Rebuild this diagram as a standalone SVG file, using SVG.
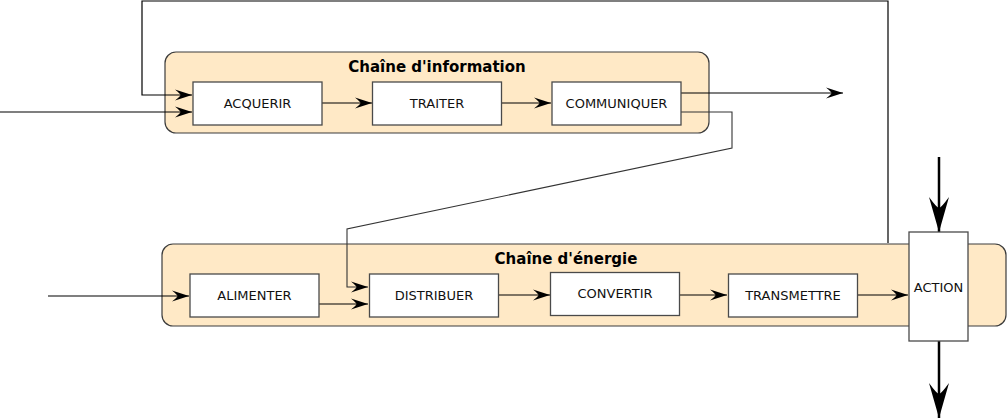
<svg xmlns="http://www.w3.org/2000/svg" width="1007" height="418" viewBox="0 0 1007 418">
<style>
.grp{fill:#ffe9c6;stroke:#3c3c3c;stroke-width:1.2}
.box{fill:#ffffff;stroke:#4a4a4a;stroke-width:1.3}
.lbl{font-family:"DejaVu Sans",sans-serif;font-size:13px;fill:#111;text-anchor:middle}
.ttl{font-family:"DejaVu Sans",sans-serif;font-size:15px;font-weight:bold;fill:#000;text-anchor:middle}
.ln{fill:none;stroke:#000;stroke-width:1.2}
.lg{fill:none;stroke:#333;stroke-width:1.1}
.big{fill:none;stroke:#000;stroke-width:2.5}
</style>
<defs>
<marker id="a" markerUnits="userSpaceOnUse" viewBox="-18 -6 19 12" refX="0" refY="0" markerWidth="19" markerHeight="12" orient="auto">
<path d="M0,0 L-17,-5.5 Q-11.5,-1 -11.5,0 Q-11.5,1 -17,5.5 Z" fill="#000"/>
</marker>
<marker id="b" markerUnits="userSpaceOnUse" viewBox="-36 -11 37 22" refX="0" refY="0" markerWidth="37" markerHeight="22" orient="auto">
<path d="M0,0 L-35,-10 Q-24,-2 -24,0 Q-24,2 -35,10 Z" fill="#000"/>
</marker>
</defs>
<g id="chaine-information">
<rect class="grp" x="165" y="52" width="544" height="81" rx="11"/>
<text class="ttl" x="437" y="72">Chaîne d'information</text>
</g>
<g id="chaine-energie">
<rect class="grp" x="162" y="244" width="844" height="82" rx="11"/>
<text class="ttl" x="566" y="264">Chaîne d'énergie</text>
</g>
<g id="connectors">
<path class="ln" d="M888,243 V1 H142 V95 H192" marker-end="url(#a)"/>
<path class="ln" d="M0,112 H192" marker-end="url(#a)"/>
<path class="ln" d="M322,103 H372" marker-end="url(#a)"/>
<path class="ln" d="M501,103 H551" marker-end="url(#a)"/>
<path class="ln" d="M681,93 H843" marker-end="url(#a)"/>
<path class="lg" d="M681,112 H732 V148 L347,229 V287 H368" marker-end="url(#a)"/>
<path class="ln" d="M48,296 H189" marker-end="url(#a)"/>
<path class="ln" d="M319,304 H368" marker-end="url(#a)"/>
<path class="ln" d="M498,295 H550" marker-end="url(#a)"/>
<path class="ln" d="M679,295 H727" marker-end="url(#a)"/>
<path class="ln" d="M857,295 H908" marker-end="url(#a)"/>
<path class="big" d="M939,157 V232" marker-end="url(#b)"/>
<path class="big" d="M939,341 V418" marker-end="url(#b)"/>
</g>
<g id="acquerir"><rect class="box" x="193" y="82" width="129" height="43"/><text class="lbl" x="257.5" y="108">ACQUERIR</text></g>
<g id="traiter"><rect class="box" x="372.5" y="82" width="129" height="43"/><text class="lbl" x="437" y="108">TRAITER</text></g>
<g id="communiquer"><rect class="box" x="552" y="82" width="129" height="43"/><text class="lbl" x="616.5" y="108">COMMUNIQUER</text></g>
<g id="alimenter"><rect class="box" x="190" y="274" width="129" height="43"/><text class="lbl" x="254.5" y="300">ALIMENTER</text></g>
<g id="distribuer"><rect class="box" x="369.5" y="274" width="129" height="43"/><text class="lbl" x="434" y="300">DISTRIBUER</text></g>
<g id="convertir"><rect class="box" x="550.5" y="272.5" width="129" height="43"/><text class="lbl" x="615" y="298">CONVERTIR</text></g>
<g id="transmettre"><rect class="box" x="728.5" y="274" width="129" height="43"/><text class="lbl" x="793" y="300">TRANSMETTRE</text></g>
<g id="action"><rect class="box" x="909" y="232" width="59" height="109"/><text class="lbl" x="938.5" y="292">ACTION</text></g>
</svg>
